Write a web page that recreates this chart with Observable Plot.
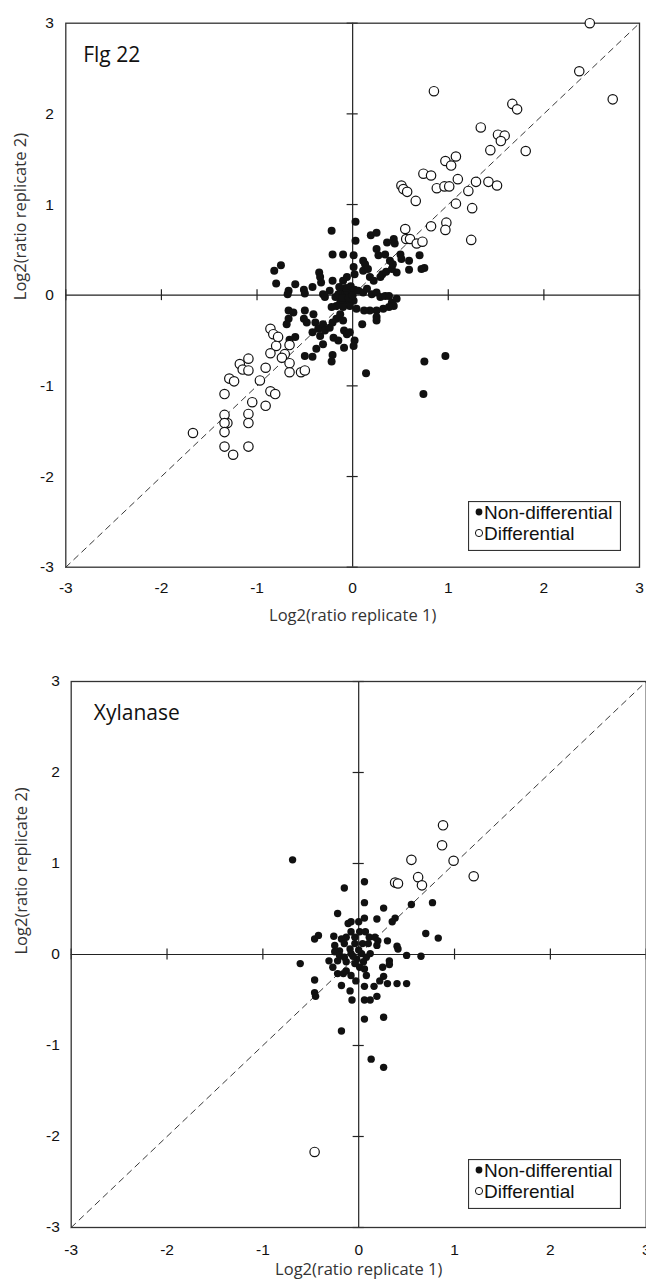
<!DOCTYPE html>
<html><head><meta charset="utf-8">
<script src="https://cdn.jsdelivr.net/npm/d3@7"></script>
<script src="https://cdn.jsdelivr.net/npm/@observablehq/plot@0.6"></script>
<style>
html,body{margin:0;padding:0;background:#fff;}
#wrap{position:relative;width:646px;height:1282px;overflow:hidden;background:#fff;}
.panel{position:absolute;left:0;width:646px;}
.legend{position:absolute;}
</style>
</head><body>
<div id="wrap"></div>
<script>
// ---------- data ----------
const axisDomain = [-3, 3];
const tickValues = [-3, -2, -1, 0, 1, 2, 3];
const xTitle = "Log2(ratio replicate 1)";
const yTitle = "Log2(ratio replicate 2)";
const legendLabels = ["Non-differential", "Differential"];
const panelLabels = ["Flg 22", "Xylanase"];

// Flg 22 panel: [replicate1, replicate2]
const flgNonDiff = [
 [-0.22,0.71],[0.03,0.81],[0.03,0.60],[0.19,0.66],[0.25,0.69],[0.36,0.58],[0.43,0.62],[0.44,0.57],
 [-0.21,0.45],[-0.10,0.45],[0.01,0.44],[0.11,0.38],[0.13,0.34],[0.25,0.51],[0.27,0.44],[0.34,0.45],
 [0.39,0.38],[0.50,0.45],[0.51,0.40],[0.46,0.25],[0.59,0.38],[0.59,0.28],[0.70,0.44],[0.75,0.30],[0.72,0.29],
 [-0.75,0.33],[-0.82,0.27],[-0.80,0.13],[-0.60,0.12],[-0.67,0.05],[-0.68,0.01],[-0.51,0.06],[-0.50,0.02],
 [-0.42,0.09],[-0.35,0.25],[-0.34,0.20],[-0.33,0.14],[-0.21,0.16],[-0.10,0.16],[-0.06,0.20],[0.01,0.31],
 [0.02,0.23],[0.11,0.27],[0.16,0.29],[0.18,0.20],[0.22,0.16],[0.29,0.20],[0.31,0.23],[0.35,0.26],[0.41,0.29],[0.42,0.34],
 [-0.31,0.01],[-0.29,-0.02],[-0.24,0.05],[-0.18,-0.02],[-0.15,0.01],[-0.12,0.05],[-0.08,0.01],[-0.05,0.03],
 [-0.01,-0.01],[0.01,-0.06],[-0.06,-0.06],[-0.13,-0.08],[-0.17,-0.12],[-0.22,-0.13],[-0.03,-0.12],[-0.10,-0.13],
 [-0.07,0.08],[-0.02,0.10],[0.02,0.06],[-0.11,-0.03],[-0.04,-0.03],[0.00,0.00],[-0.14,0.09],
 [0.06,0.05],[0.11,0.03],[0.15,0.07],[0.20,0.01],[0.25,0.03],[0.29,-0.02],[0.34,-0.01],[0.38,-0.01],
 [0.41,-0.08],[0.46,-0.04],[0.43,-0.12],[0.38,-0.13],[0.32,-0.15],[0.25,-0.17],[0.18,-0.17],[0.12,-0.17],[0.04,-0.15],
 [0.10,-0.32],[0.25,-0.24],[0.25,-0.28],
 [-0.67,-0.17],[-0.67,-0.26],[-0.62,-0.19],[-0.50,-0.17],[-0.51,-0.26],[-0.48,-0.30],[-0.41,-0.21],[-0.39,-0.30],
 [-0.36,-0.37],[-0.42,-0.41],[-0.34,-0.45],[-0.31,-0.32],[-0.29,-0.39],[-0.24,-0.36],[-0.20,-0.47],[-0.21,-0.30],
 [-0.17,-0.26],[-0.13,-0.21],[-0.10,-0.28],[-0.09,-0.39],[-0.06,-0.43],[-0.03,-0.41],[0.02,-0.50],[0.01,-0.56],
 [-0.09,-0.58],[-0.15,-0.50],[-0.69,-0.32],[-0.66,-0.49],
 [-0.50,-0.67],[-0.42,-0.68],[-0.21,-0.66],[-0.22,-0.73],[-0.38,-0.59],[-0.31,-0.54],[-0.60,-0.46],
 [0.14,-0.86],[0.75,-0.73],[0.97,-0.67],[0.74,-1.09]
];
const flgDiff = [
 [2.48,3.00],[2.37,2.47],[2.72,2.16],[0.85,2.25],[1.67,2.11],[1.72,2.05],[1.34,1.85],[1.52,1.77],[1.59,1.76],
 [1.55,1.70],[1.44,1.60],[1.81,1.59],[1.08,1.53],[0.97,1.48],[1.03,1.43],[0.74,1.34],[0.82,1.32],[1.10,1.28],
 [0.51,1.21],[0.53,1.17],[0.57,1.14],[0.88,1.18],[0.96,1.20],[1.01,1.20],[1.21,1.15],[1.29,1.25],[1.42,1.25],
 [1.51,1.21],[0.66,1.04],[1.08,1.01],[1.25,0.96],[0.98,0.80],[0.97,0.72],[1.24,0.61],[0.82,0.76],[0.55,0.73],
 [0.56,0.62],[0.60,0.62],[0.67,0.57],[0.73,0.59],
 [-0.86,-0.37],[-0.83,-0.43],[-0.78,-0.46],[-0.66,-0.55],[-0.80,-0.56],[-0.86,-0.64],[-0.71,-0.65],[-0.74,-0.69],
 [-0.66,-0.75],[-0.66,-0.85],[-0.54,-0.85],[-0.50,-0.83],[-1.09,-0.70],[-1.18,-0.76],[-1.15,-0.82],[-1.09,-0.83],
 [-0.91,-0.80],[-1.29,-0.92],[-1.24,-0.95],[-0.97,-0.94],[-1.34,-1.09],[-0.86,-1.06],[-0.81,-1.09],[-1.05,-1.18],
 [-0.91,-1.22],[-1.34,-1.32],[-1.31,-1.41],[-1.34,-1.41],[-1.09,-1.31],[-1.09,-1.41],[-1.34,-1.51],[-1.67,-1.52],
 [-1.34,-1.67],[-1.25,-1.76],[-1.09,-1.67]
];

// Xylanase panel
const xylNonDiff = [
 [-0.69,1.04],[-0.15,0.73],[0.06,0.80],[0.06,0.57],[0.26,0.51],[-0.22,0.45],[0.06,0.40],[0.19,0.39],[0.35,0.36],
 [0.38,0.40],[0.55,0.55],[0.77,0.57],[-0.08,0.36],[0.00,0.36],[0.70,0.23],[0.83,0.18],[-0.46,0.17],[-0.42,0.21],
 [-0.26,0.20],[-0.18,0.17],[-0.13,0.19],[-0.08,0.25],[-0.04,0.19],[0.01,0.25],[0.07,0.25],[0.11,0.19],[0.17,0.19],
 [0.20,0.15],[0.19,0.10],[0.30,0.15],[0.40,0.09],[0.41,0.06],[0.50,-0.01],[0.65,-0.02],[-0.61,-0.10],[-0.31,-0.07],
 [-0.25,0.10],[-0.20,0.04],[-0.15,0.12],[-0.09,0.06],[-0.04,0.12],[-0.25,0.03],[-0.20,-0.01],[-0.15,-0.03],
 [-0.08,0.01],[-0.02,-0.05],[0.03,0.01],[0.08,-0.03],[0.12,0.01],[0.05,-0.08],[-0.04,-0.10],[-0.13,-0.08],
 [-0.22,-0.07],[-0.27,-0.14],[-0.22,-0.21],[-0.16,-0.21],[-0.13,-0.18],[-0.08,-0.23],[0.01,-0.14],[0.06,-0.16],
 [0.08,-0.23],[0.32,-0.07],[0.32,-0.11],[0.25,-0.14],[-0.11,0.34],[0.04,0.12],[-0.06,-0.02],[0.00,0.05],[0.10,0.12],
 [-0.46,-0.28],[-0.46,-0.42],[-0.45,-0.46],[-0.18,-0.34],[-0.09,-0.40],[-0.07,-0.50],[-0.03,-0.29],[0.06,-0.35],
 [0.06,-0.50],[0.12,-0.50],[0.19,-0.46],[0.16,-0.35],[0.22,-0.29],[0.26,-0.24],[0.30,-0.32],[0.40,-0.32],[0.50,-0.32],
 [0.06,-0.71],[0.26,-0.69],[-0.18,-0.84],[0.13,-1.15],[0.26,-1.24]
];
const xylDiff = [
 [0.88,1.42],[0.87,1.20],[0.55,1.04],[0.99,1.03],[1.20,0.86],[0.62,0.85],[0.66,0.76],[0.38,0.79],[0.41,0.78],[-0.46,-2.17]
];

// ---------- drawing ----------
const ink = "#222";
const tickFont = "'Liberation Sans', Arial, sans-serif";
const titleFont = "'Open Sans', sans-serif";
const wrap = document.getElementById("wrap");

function makePanel(cfg) {
  const innerX = tickValues.filter(v => v !== 0);
  const chart = Plot.plot({
    width: 646, height: cfg.height,
    marginTop: cfg.mt, marginBottom: cfg.mb, marginLeft: cfg.ml, marginRight: cfg.mr,
    x: {domain: axisDomain, axis: null},
    y: {domain: axisDomain, axis: null},
    style: {fontFamily: tickFont, fontSize: "15.5px", color: ink, background: "transparent", overflow: "visible"},
    marks: [
      Plot.line(axisDomain.map(v => [v, v]), {x: d => d[0], y: d => d[1], stroke: ink, strokeWidth: 0.9, strokeDasharray: "6,5"}),
      Plot.ruleX([0], {stroke: ink, strokeWidth: 1.2}),
      Plot.ruleY([0], {stroke: ink, strokeWidth: 1.2}),
      Plot.ruleX(innerX, {x: d => d, y1: -0.06, y2: 0.06, stroke: ink, strokeWidth: 1.2}),
      Plot.ruleY(innerX, {y: d => d, x1: -0.058, x2: 0.058, stroke: ink, strokeWidth: 1.2}),
      Plot.frame({stroke: "#333", strokeWidth: 1.3}),
      // tick labels
      Plot.text(tickValues, {x: d => d, text: d => String(d), frameAnchor: "bottom", lineAnchor: "top", dy: cfg.xPad,
        fontSize: 15.5, fontFamily: tickFont, fill: "#111"}),
      Plot.text(tickValues, {y: d => d, text: d => String(d), frameAnchor: "left", textAnchor: "end", dx: -cfg.yPad,
        fontSize: 15.5, fontFamily: tickFont, fill: "#111"}),
      Plot.dot(cfg.nonDiff, {x: d => d[0], y: d => d[1], r: cfg.rFill, fill: "#111", stroke: "none"}),
      Plot.dot(cfg.diff, {x: d => d[0], y: d => d[1], r: 4.7, fill: "white", stroke: "#111", strokeWidth: 1.2}),
      Plot.text([cfg.label], {frameAnchor: "top-left", textAnchor: "start", lineAnchor: "top", dx: cfg.labelDx, dy: 24,
        fontFamily: titleFont, fontSize: 21, fill: "#111"}),
      Plot.text([xTitle], {frameAnchor: "bottom", dy: cfg.xTitleDy, fontFamily: titleFont, fontSize: 16.5, fill: "#333"}),
      Plot.text([yTitle], {frameAnchor: "left", rotate: -90, dx: cfg.yTitleDx, dy: cfg.yTitleDy, fontFamily: titleFont, fontSize: 16.5, fill: "#333"})
    ]
  });
  const holder = document.createElement("div");
  holder.className = "panel";
  holder.style.top = cfg.top + "px";
  holder.appendChild(chart);
  wrap.appendChild(holder);

  // legend box
  const lg = d3.select(wrap).append("svg").attr("class", "legend")
    .style("left", cfg.legend[0] + "px").style("top", cfg.legend[1] + "px")
    .attr("width", 153).attr("height", 50);
  lg.append("rect").attr("x", 0.5).attr("y", 0.5).attr("width", 152).attr("height", 49)
    .attr("fill", "white").attr("stroke", "#333").attr("stroke-width", 1.2);
  const rows = [{y: 11, filled: true}, {y: 32, filled: false}];
  rows.forEach((row, i) => {
    lg.append("circle").attr("cx", 11).attr("cy", row.y).attr("r", row.filled ? 3.4 : 3.6)
      .attr("fill", row.filled ? "#111" : "white").attr("stroke", row.filled ? "none" : "#111").attr("stroke-width", 1);
    lg.append("text").attr("x", 16).attr("y", row.y + 6.5).text(legendLabels[i])
      .attr("font-family", tickFont).attr("font-size", 19).attr("fill", "#111");
  });
}

makePanel({
  top: 0, height: 640, mt: 22.7, mb: 73.3, ml: 65.3, mr: 7,
  xPad: 15, yPad: 12, labelDx: 17.4, xTitleDy: 54, yTitleDx: -44.8, yTitleDy: 5,
  nonDiff: flgNonDiff, diff: flgDiff, label: panelLabels[0], rFill: 4, legend: [468, 501]
});
makePanel({
  top: 640, height: 642, mt: 41, mb: 55, ml: 70.7, mr: 0.3,
  xPad: 16, yPad: 11.4, labelDx: 22.6, xTitleDy: 47.7, yTitleDx: -49.5, yTitleDy: 0,
  nonDiff: xylNonDiff, diff: xylDiff, label: panelLabels[1], rFill: 3.7, legend: [468, 1159]
});
</script>
</body></html>
